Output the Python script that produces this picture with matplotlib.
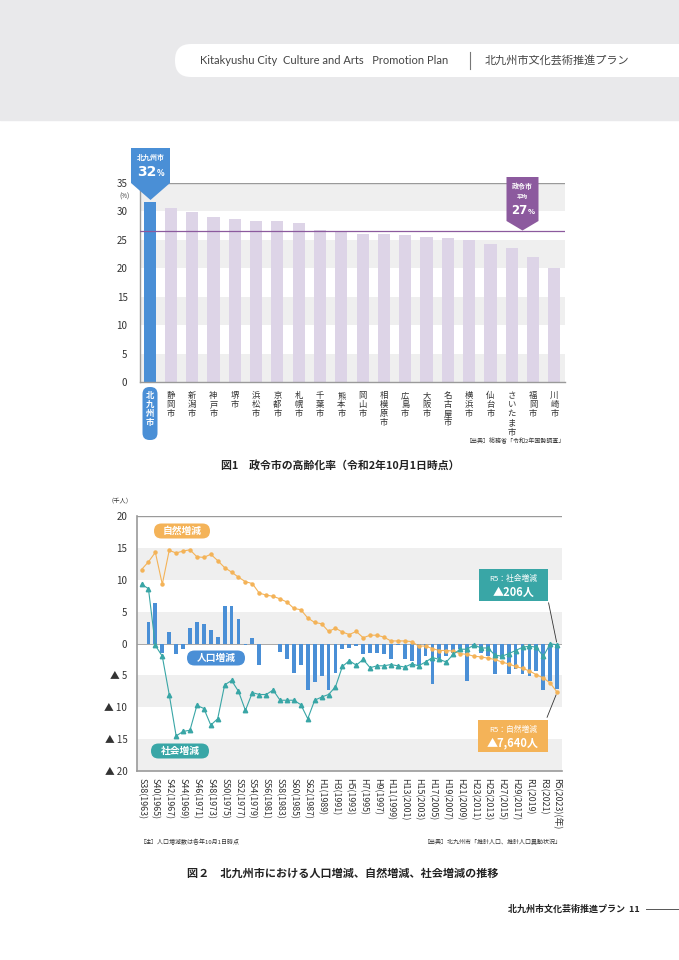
import numpy as np
import matplotlib as mpl
mpl.use("Agg")
import matplotlib.pyplot as plt
from matplotlib.patches import Polygon, FancyBboxPatch, Rectangle

plt.rcParams['font.family'] = ['Noto Sans CJK JP', 'DejaVu Sans']

W, H = 679, 960

# --- fig 1 : aging rate of designated cities (%)
cities = ["北九州市", "静岡市", "新潟市", "神戸市", "堺市", "浜松市", "京都市", "札幌市",
          "千葉市", "熊本市", "岡山市", "相模原市", "広島市", "大阪市", "名古屋市",
          "横浜市", "仙台市", "さいたま市", "福岡市", "川崎市"]
aging = [31.6, 30.6, 29.9, 29.1, 28.7, 28.3, 28.3, 27.9, 26.8, 26.6, 26.1, 26.1,
         25.8, 25.5, 25.3, 25.0, 24.2, 23.5, 22.0, 20.1]
avg_rate = 26.6

# --- fig 2 : population change (thousand people)
years = list(range(1963, 2024))
pop_change = [0.0, 3.4, 6.4, -1.5, 1.8, -1.6, -0.8, 2.5, 3.4, 3.1,
              2.1, 1.0, 5.9, 5.9, 3.9, -0.3, 0.8, -3.3, 0.0, -0.1,
              -1.3, -2.5, -4.6, -3.4, -7.3, -6.0, -5.1, -7.3, -4.7, -0.9,
              -0.7, -0.4, -1.7, -1.5, -1.5, -1.7, -2.5, -0.3, -2.5, -2.7,
              -3.3, -2.0, -6.4, -2.2, -2.0, -1.5, -0.9, -5.9, -0.7, -1.5,
              -2.0, -4.8, -2.2, -4.8, -4.0, -4.8, -5.1, -4.3, -7.3, -5.9,
              -7.2]
natural = [11.6, 12.8, 14.3, 9.3, 14.6, 14.2, 14.5, 14.7, 13.6, 13.5,
           14.0, 13.0, 11.9, 11.2, 10.4, 9.7, 9.4, 7.9, 7.6, 7.4,
           7.0, 6.5, 5.5, 5.3, 4.0, 3.3, 3.1, 1.9, 2.4, 1.8,
           1.4, 1.9, 0.9, 1.3, 1.3, 1.0, 0.4, 0.4, 0.4, 0.3,
           -0.4, -0.4, -0.8, -1.1, -1.1, -1.2, -1.6, -1.7, -2.0, -2.1,
           -2.3, -2.5, -2.9, -3.2, -3.6, -3.9, -4.3, -4.9, -5.4, -6.2,
           -7.64]
social = [9.3, 8.6, -0.3, -2.0, -8.0, -14.5, -13.8, -13.6, -9.7, -10.2,
          -12.8, -11.8, -6.5, -5.8, -7.5, -10.5, -7.7, -8.0, -8.0, -7.3,
          -8.9, -8.9, -8.9, -9.6, -11.8, -8.9, -8.4, -8.0, -6.8, -3.6,
          -2.7, -3.4, -2.5, -3.8, -3.5, -3.5, -3.3, -3.5, -3.7, -3.2,
          -3.5, -2.9, -2.2, -2.5, -2.9, -1.7, -0.9, -0.9, -0.2, -0.7,
          -0.7, -1.8, -2.0, -1.6, -1.1, -0.6, -0.4, -0.6, -2.0, -0.05,
          -0.206]
tick_years = list(range(1963, 2024, 2))
tick_labels = ["S38(1963)", "S40(1965)", "S42(1967)", "S44(1969)", "S46(1971)",
               "S48(1973)", "S50(1975)", "S52(1977)", "S54(1979)", "S56(1981)",
               "S58(1983)", "S60(1985)", "S62(1987)", "H1(1989)", "H3(1991)",
               "H5(1993)", "H7(1995)", "H9(1997)", "H11(1999)", "H13(2001)",
               "H15(2003)", "H17(2005)", "H19(2007)", "H21(2009)", "H23(2011)",
               "H25(2013)", "H27(2015)", "H29(2017)", "R1(2019)", "R3(2021)",
               "R5(2023)(年)"]

BLUE = "#4a8fd6"
LAV = "#ddd4e7"
PURPLE = "#8c5a9e"
ORANGE = "#f4b358"
TEAL = "#39a6a6"
BAND = "#efefef"
GRID = "#9a9a9a"
TXT = "#333333"


def px(l, t, r, b):
    return [l / W, 1 - b / H, (r - l) / W, (b - t) / H]


fig = plt.figure(figsize=(W / 100, H / 100), dpi=100)

# overlay in pixel coords for page decoration
ov = fig.add_axes([0, 0, 1, 1], zorder=10)
ov.set_xlim(0, W)
ov.set_ylim(H, 0)
ov.axis("off")
ov.patch.set_alpha(0)

# header
ov.add_patch(Rectangle((0, 0), W, 120, color="#e9e9eb", zorder=0))
ov.add_patch(FancyBboxPatch((175, 44), 600, 33, boxstyle="round,pad=0,rounding_size=16",
                            fc="white", ec="none", zorder=1))
ov.text(200, 60.5, "Kitakyushu City  Culture and Arts   Promotion Plan", fontsize=8,
        color="#444", va="center", family=["Lato", "DejaVu Sans"])
ov.plot([470, 470], [52, 69], color="#777", lw=0.8)
ov.text(485, 60.5, "北九州市文化芸術推進プラン", fontsize=8, color="#444", va="center")

# ---------------- fig 1
ax1 = fig.add_axes(px(140, 183, 565, 382))
x1 = np.arange(len(cities))
for lo in range(0, 35, 10):
    ax1.axhspan(lo, lo + 5, color=BAND, lw=0, zorder=0)
ax1.bar(x1, aging, width=0.57, color=[BLUE] + [LAV] * (len(cities) - 1), zorder=2)
ax1.axhline(avg_rate, color=PURPLE, lw=0.9, zorder=3)
ax1.axhline(35, color=GRID, lw=1.0, zorder=3)
ax1.set_xlim(-0.45, len(cities) - 0.5)
ax1.set_ylim(0, 35)
ax1.set_yticks(range(0, 36, 5))
ax1.tick_params(axis="y", length=0, labelsize=7, colors=TXT, pad=9)
ax1.set_xticks([])
for s in ["top", "right"]:
    ax1.spines[s].set_visible(False)
for s in ["left", "bottom"]:
    ax1.spines[s].set_color(GRID)
    ax1.spines[s].set_linewidth(1.0)
for i, name in enumerate(cities[1:], start=1):
    ax1.annotate("\n".join(name), xy=(i, 0), xycoords=("data", "axes fraction"),
                 xytext=(0, -9), textcoords="offset pixels", ha="center", va="top",
                 fontsize=6, linespacing=1.02, color=TXT, zorder=5)
# highlighted label for Kitakyushu
ov.add_patch(FancyBboxPatch((142.5, 387), 15, 53, boxstyle="round,pad=0,rounding_size=7",
                            fc=BLUE, ec="none", zorder=1))
ov.text(150, 391, "\n".join(cities[0]), fontsize=6, linespacing=1.02, color="white",
        weight="bold", ha="center", va="top", zorder=2)
ov.text(125, 197, "(%)", fontsize=4.5, color=TXT, ha="center", va="center")

# Kitakyushu callout
ov.add_patch(Polygon([(131, 148), (170, 148), (170, 183), (150.5, 200), (131, 183)],
                     closed=True, fc=BLUE, ec="none"))
ov.text(150.5, 157, "北九州市", fontsize=5, color="white", weight="bold", ha="center", va="center")
ov.text(156, 172, "32", fontsize=10, color="white", weight="bold", ha="right", va="center",
        family=["DejaVu Sans"])
ov.text(156.5, 174, "%", fontsize=5.5, color="white", weight="bold", ha="left", va="center",
        family=["DejaVu Sans"])
# average callout
ov.add_patch(Polygon([(506.5, 177), (538.5, 177), (538.5, 221), (522.5, 230.5), (506.5, 221)],
                     closed=True, fc=PURPLE, ec="none"))
ov.text(522.5, 186, "政令市", fontsize=5, color="white", weight="bold", ha="center", va="center")
ov.text(522.5, 197, "平均", fontsize=4, color="white", weight="bold", ha="center", va="center")
ov.text(527.5, 210, "27", fontsize=8.5, color="white", weight="bold", ha="right", va="center",
        family=["DejaVu Sans"])
ov.text(528, 211.5, "%", fontsize=5, color="white", weight="bold", ha="left", va="center",
        family=["DejaVu Sans"])

ov.text(565, 441, "［出典］総務省「令和2年国勢調査」", fontsize=4.3, color=TXT, ha="right", va="center")
ov.text(340, 465, "図1　政令市の高齢化率（令和2年10月1日時点）", fontsize=7.8, color="#222",
        ha="center", va="center", weight="bold")

# ---------------- fig 2
ax2 = fig.add_axes(px(137, 516, 562, 771))
for lo in (-20, -10, 0, 10):
    ax2.axhspan(lo, lo + 5, color=BAND, lw=0, zorder=0)
ax2.axhline(0, color=GRID, lw=0.6, zorder=1)
ax2.axhline(20, color=GRID, lw=1.0, zorder=1)
ax2.bar(years, pop_change, width=0.55, color=BLUE, zorder=2)
ax2.plot(years, natural, color=ORANGE, lw=0.8, marker="o", ms=2.2, zorder=4)
ax2.plot(years, social, color=TEAL, lw=0.8, marker="^", ms=3.2, zorder=4)
ax2.set_xlim(1962.35, 2023.7)
ax2.set_ylim(-20, 20)
ax2.set_yticks(range(-20, 21, 5))
ax2.set_yticklabels([("▲ %d" % -v) if v < 0 else str(v) for v in range(-20, 21, 5)])
ax2.tick_params(axis="y", length=0, labelsize=7, colors=TXT, pad=7)
ax2.set_xticks(tick_years)
ax2.set_xticklabels(tick_labels, rotation=-90, fontsize=6.4, color=TXT, va="top", ha="center",
                    rotation_mode="default")
ax2.tick_params(axis="x", length=0, pad=5)
for s in ["top", "right"]:
    ax2.spines[s].set_visible(False)
for s in ["left", "bottom"]:
    ax2.spines[s].set_color(GRID)
    ax2.spines[s].set_linewidth(1.2)
ov.text(120, 500, "（千人）", fontsize=4.5, color=TXT, ha="center", va="center")

# series labels
for (cx, cy, w, txt, col) in [(182, 531, 56, "自然増減", ORANGE),
                              (216, 658, 58, "人口増減", BLUE),
                              (180, 751, 58, "社会増減", TEAL)]:
    ov.add_patch(FancyBboxPatch((cx - w / 2, cy - 7.5), w, 15,
                                boxstyle="round,pad=0,rounding_size=7.5", fc=col, ec="none"))
    ov.text(cx, cy, txt, fontsize=7, color="white", ha="center", va="center", weight="bold")

# R5 callouts
ov.add_patch(Rectangle((479, 569), 69, 32, fc=TEAL, ec="none"))
ov.text(513.5, 579, "R5：社会増減", fontsize=5.6, color="white", ha="center", va="center")
ov.text(513.5, 592, "▲206人", fontsize=8, color="white", ha="center", va="center", weight="bold")
ov.add_patch(Rectangle((478, 720), 70, 32, fc=ORANGE, ec="none"))
ov.text(513, 730, "R5：自然増減", fontsize=5.6, color="white", ha="center", va="center")
ov.text(513, 743, "▲7,640人", fontsize=8, color="white", ha="center", va="center", weight="bold")
ax2.annotate("", xy=(years[-1], social[-1]), xycoords="data", xytext=(548, 600),
             textcoords=ov.transData, arrowprops=dict(arrowstyle="-", color="#333", lw=0.6))
ax2.annotate("", xy=(years[-1], natural[-1]), xycoords="data", xytext=(546, 720),
             textcoords=ov.transData, arrowprops=dict(arrowstyle="-", color="#333", lw=0.6))

ov.text(140, 842, "［注］人口増減数は各年10月1日時点", fontsize=4.3, color=TXT, ha="left", va="center")
ov.text(562, 842, "［出典］北九州市「推計人口、推計人口異動状況」", fontsize=4.3, color=TXT,
        ha="right", va="center")
ov.text(343, 873, "図２　北九州市における人口増減、自然増減、社会増減の推移", fontsize=8,
        color="#222", ha="center", va="center", weight="bold")

# footer
ov.text(640, 909, "北九州市文化芸術推進プラン  11", fontsize=6.5, color="#222", ha="right",
        va="center", weight="bold")
ov.plot([646, 679], [909, 909], color="#555", lw=0.7)

fig.savefig("out.png", dpi=100)
